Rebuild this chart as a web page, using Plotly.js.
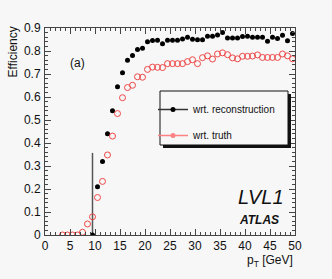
<!DOCTYPE html>
<html>
<head>
<meta charset="utf-8">
<script src="https://cdn.plot.ly/plotly-3.0.1.min.js"></script>
<style>html,body{margin:0;padding:0;background:#f7f7f7;}#chart{width:332px;height:279px;}</style>
</head>
<body>
<div id="chart"></div>
<script>
// pT bin centres [GeV]
const recoPt = [9.5,10.5,11.5,12.5,13.5,14.5,15.5,16.5,17.5,18.5,19.5,20.5,21.5,22.5,23.5,24.5,25.5,26.5,27.5,28.5,29.5,30.5,31.5,32.5,33.5,34.5,35.5,36.5,37.5,38.5,39.5,40.5,41.5,42.5,43.5,44.5,45.5,46.5,47.5,48.5,49.5];
const recoEff = [0,0.21,0.32,0.44,0.54,0.645,0.705,0.76,0.78,0.806,0.812,0.84,0.846,0.847,0.832,0.847,0.847,0.847,0.852,0.86,0.851,0.849,0.849,0.864,0.864,0.87,0.88,0.856,0.856,0.856,0.863,0.864,0.86,0.86,0.86,0.842,0.86,0.854,0.868,0.845,0.876];
const recoErrUp = [0.357,0,0,0,0,0,0,0,0,0,0,0,0,0,0,0,0,0,0,0,0,0,0,0,0,0,0,0,0,0,0,0,0,0,0,0,0,0,0,0,0];

const truthPt = [3.5,4.5,5.5,6.5,7.5,8.5,9.5,10.5,11.5,12.5,13.5,14.5,15.5,16.5,17.5,18.5,19.5,20.5,21.5,22.5,23.5,24.5,25.5,26.5,27.5,28.5,29.5,30.5,31.5,32.5,33.5,34.5,35.5,36.5,37.5,38.5,39.5,40.5,41.5,42.5,43.5,44.5,45.5,46.5,47.5,48.5,49.5];
const truthEff = [0,0,0,0,0.012,0.048,0.079,0.163,0.233,0.348,0.43,0.528,0.597,0.641,0.651,0.688,0.686,0.72,0.73,0.729,0.728,0.745,0.745,0.745,0.745,0.754,0.762,0.745,0.771,0.779,0.765,0.787,0.792,0.784,0.77,0.766,0.777,0.777,0.778,0.783,0.772,0.772,0.772,0.772,0.787,0.779,0.766];

const seriesNames = ["wrt. reconstruction", "wrt. truth"];
const xTicks = [0,5,10,15,20,25,30,35,40,45,50];
const yTicks = [0,0.1,0.2,0.3,0.4,0.5,0.6,0.7,0.8,0.9];

const FONT = "Liberation Sans, Arial, Helvetica, sans-serif";
const RED = "rgb(238,70,70)";
const PINK = "rgb(255,130,130)";
const BG = "#f7f7f7";

const traces = [
  {x: recoPt, y: recoEff, type: "scatter", mode: "markers", showlegend: false,
   marker: {color: "black", size: 5, symbol: "circle"},
   error_y: {type: "data", symmetric: false, array: recoErrUp, arrayminus: recoErrUp.map(()=>0), width: 0, thickness: 1.5, color: "#555"}},
  {x: truthPt, y: truthEff, type: "scatter", mode: "markers", showlegend: false,
   marker: {color: RED, size: 6, symbol: "circle-open", line: {width: 1, color: RED}}},
  {x: [null], y: [null], type: "scatter", mode: "lines+markers", name: seriesNames[0], legend: "legend",
   line: {color: "#333", width: 1.5}, marker: {color: "black", size: 5}},
  {x: [null], y: [null], type: "scatter", mode: "lines+markers", name: seriesNames[1], legend: "legend2",
   line: {color: PINK, width: 1.5}, marker: {color: PINK, size: 5, symbol: "circle"}}
];

const axisCommon = {
  showgrid: false, zeroline: false, showline: true, linecolor: "#444", linewidth: 1,
  mirror: "allticks", ticks: "inside", ticklen: 6, tickcolor: "#444", tickwidth: 1,
  tickfont: {family: FONT, size: 12, color: "#111"}
};

const legendCommon = {xanchor: "left", yanchor: "top", bgcolor: "rgba(0,0,0,0)",
  borderwidth: 0, font: {family: FONT, size: 10, color: "#111"}, itemwidth: 30};

// legend box in paper coordinates (pixels -> paper)
const px = v => (v - 45) / 250;
const py = v => (235 - v) / 207;

const layout = {
  width: 332, height: 279,
  margin: {l: 45, r: 37, t: 28, b: 44},
  paper_bgcolor: BG, plot_bgcolor: BG,
  font: {family: FONT, size: 12, color: "#111"},
  xaxis: Object.assign({}, axisCommon, {range: [0, 50], tickmode: "array", tickvals: xTicks,
    ticktext: xTicks.map(String), minor: {dtick: 1, ticklen: 3, ticks: "inside", tickcolor: "#444"}}),
  yaxis: Object.assign({}, axisCommon, {range: [0, 0.9], tickmode: "array", tickvals: yTicks,
    ticktext: yTicks.map(v => v === 0 ? "0" : String(v)), ticklabelstandoff: 1,
    minor: {dtick: 0.02, ticklen: 3, ticks: "inside", tickcolor: "#444"}}),
  showlegend: true,
  legend: Object.assign({}, legendCommon, {x: px(153), y: py(95)}),
  legend2: Object.assign({}, legendCommon, {x: px(153), y: py(121)}),
  shapes: [
    {type: "rect", xref: "paper", yref: "paper", layer: "above",
     x0: px(163), x1: px(291), y0: py(148), y1: py(94), fillcolor: "#111", line: {width: 0}},
    {type: "rect", xref: "paper", yref: "paper", layer: "above",
     x0: px(160), x1: px(288), y0: py(145), y1: py(91), fillcolor: BG, line: {width: 1, color: "#111"}}
  ],
  annotations: [
    {text: "Efficiency", xref: "paper", yref: "paper", x: -0.128, y: 1.015, xanchor: "center", yanchor: "top",
     textangle: -90, showarrow: false, font: {family: FONT, size: 12, color: "#111"}},
    {text: "p<sub>T</sub> [GeV]", xref: "paper", yref: "paper", x: 1.0, y: -0.128, xanchor: "right", yanchor: "middle",
     showarrow: false, font: {family: FONT, size: 12, color: "#111"}},
    {text: "(a)", xref: "paper", yref: "paper", x: 0.128, y: 0.831, xanchor: "center", yanchor: "middle",
     showarrow: false, font: {family: FONT, size: 12, color: "#111"}},
    {text: "<i>LVL1</i>", xref: "paper", yref: "paper", x: 0.864, y: 0.184, xanchor: "center", yanchor: "middle",
     showarrow: false, font: {family: FONT, size: 20, color: "#111"}},
    {text: "<b><i>ATLAS</i></b>", xref: "paper", yref: "paper", x: 0.856, y: 0.072, xanchor: "center", yanchor: "middle",
     showarrow: false, font: {family: FONT, size: 12, color: "#111"}}
  ]
};

Plotly.newPlot("chart", traces, layout, {displayModeBar: false, staticPlot: true});
</script>
</body>
</html>
